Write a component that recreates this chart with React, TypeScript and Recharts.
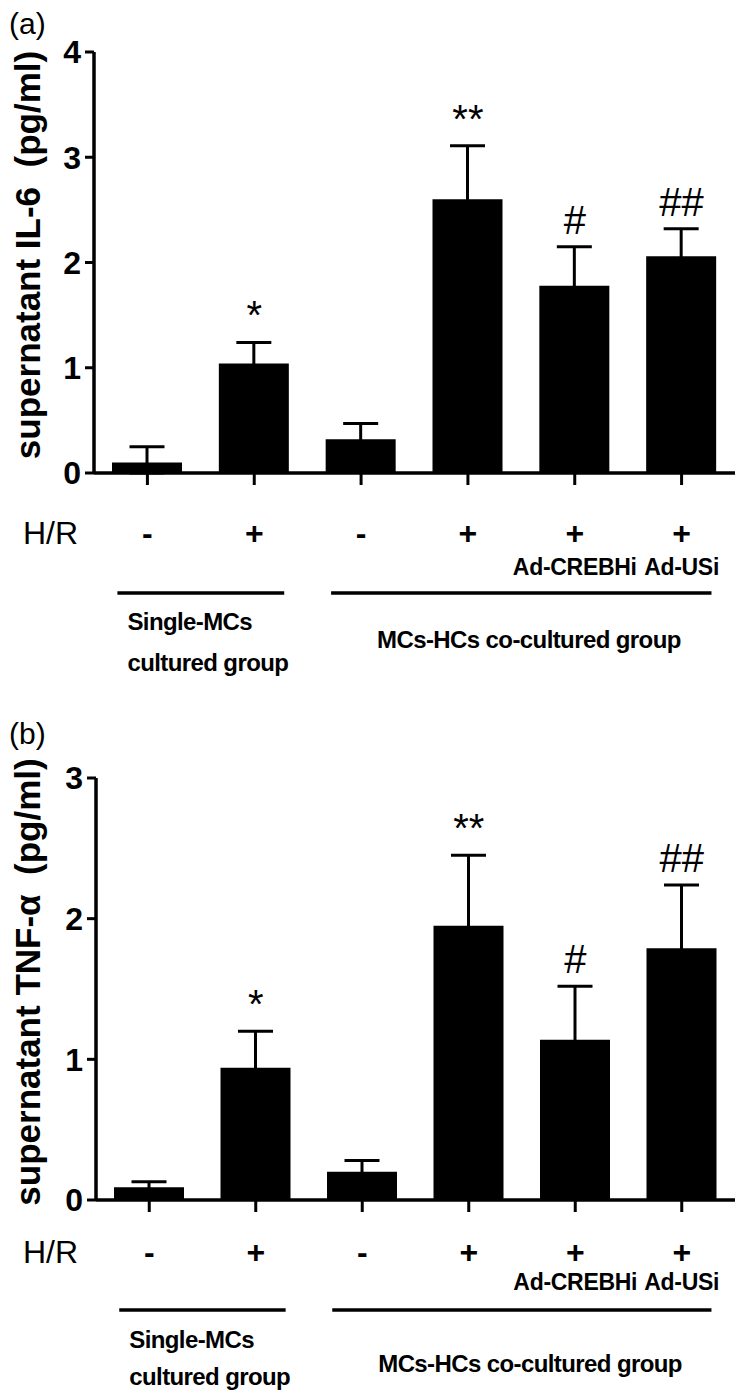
import React from 'react';
import { ComposedChart, Bar, Line, XAxis, YAxis, ErrorBar, LabelList, Customized } from 'recharts';

// ---------- data ----------
const groupKeys = ['g1', 'g2', 'g3', 'g4', 'g5', 'g6'];
const hrSigns = ['-', '+', '-', '+', '+', '+'];
const treatments = ['', '', '', '', 'Ad-CREBHi', 'Ad-USi'];
const groupOf = [0, 0, 1, 1, 1, 1];
const groupLabels = [['Single-MCs', 'cultured group'], ['MCs-HCs co-cultured group']];

const il6Mean = [0.1, 1.04, 0.32, 2.6, 1.78, 2.06];
const il6Err = [0.15, 0.2, 0.15, 0.51, 0.37, 0.26];
const il6Sig = ['', '*', '', '**', '#', '##'];
const il6Ticks = [0, 1, 2, 3, 4];

const tnfMean = [0.09, 0.94, 0.2, 1.95, 1.14, 1.79];
const tnfErr = [0.04, 0.26, 0.08, 0.5, 0.38, 0.45];
const tnfSig = ['', '*', '', '**', '#', '##'];
const tnfTicks = [0, 1, 2, 3];

const FONT = '"Liberation Sans", Arial, Helvetica, sans-serif';

function buildData(mean: number[], err: number[], sig: string[]) {
  return groupKeys.map((k, i) => ({
    key: k,
    mean: mean[i],
    err: [Math.min(err[i], mean[i]), err[i]],
    top: mean[i] + err[i],
    sig: sig[i],
  }));
}

type Cfg = {
  panel: string;
  yLabel: string;
  data: any[];
  ticks: number[];
  height: number;
  top: number;
  yAxisWidth: number;
  axisY: number;
  band: number;
  off: { sign: number; treat: number; line: number; l1: number; co: number; l2: number };
  panelY: number;
  yLabelX: number;
  yLabelY: number;
};

const SigLabel = (props: any) => {
  const { x, y, value } = props;
  if (!value) return null;
  return (
    <text x={x} y={y - 13} textAnchor="middle" fontSize={40} fontFamily={FONT} fill="#000">
      {value}
    </text>
  );
};

function makeTick(cfg: Cfg) {
  return (props: any) => {
    const { x, payload } = props;
    const i = groupKeys.indexOf(payload.value);
    const a = cfg.axisY;
    const o = cfg.off;
    const g = groupOf[i];
    const first = groupOf.indexOf(g);
    const last = groupOf.lastIndexOf(g);
    const els: any[] = [];
    els.push(
      <text key="s" x={x} y={a + o.sign + 11} textAnchor="middle" fontSize={32} fontWeight="bold" fontFamily={FONT} fill="#000">
        {hrSigns[i]}
      </text>
    );
    if (treatments[i]) {
      els.push(
        <text key="t" x={x} y={a + o.treat + 8} textAnchor="middle" fontSize={23} fontWeight="bold" fontFamily={FONT} fill="#000" letterSpacing={-0.3}>
          {treatments[i]}
        </text>
      );
    }
    if (i === 0) {
      els.push(
        <text key="hr" x={23} y={a + o.sign + 11} textAnchor="start" fontSize={32} fontFamily={FONT} fill="#000">
          H/R
        </text>
      );
    }
    if (i === first) {
      const x1 = x - 30;
      const x2 = x + (last - first) * cfg.band + 30;
      els.push(<line key="gl" x1={x1} x2={x2} y1={a + o.line} y2={a + o.line} stroke="#000" strokeWidth={3.5} />);
      const labs = groupLabels[g];
      if (labs.length === 2) {
        els.push(
          <text key="l1" x={x - 20} y={a + o.l1 + 8} fontSize={24} fontWeight="bold" fontFamily={FONT} fill="#000" letterSpacing={-0.6}>
            {labs[0]}
          </text>
        );
        els.push(
          <text key="l2" x={x - 20} y={a + o.l2 + 8} fontSize={24} fontWeight="bold" fontFamily={FONT} fill="#000" letterSpacing={-0.6}>
            {labs[1]}
          </text>
        );
      } else {
        els.push(
          <text key="l1" x={x + 16} y={a + o.co + 8} fontSize={24} fontWeight="bold" fontFamily={FONT} fill="#000" letterSpacing={-0.6}>
            {labs[0]}
          </text>
        );
      }
    }
    return (
      <g>
        <line x1={x} x2={x} y1={a} y2={a + 12} stroke="#000" strokeWidth={3} />
        {els}
      </g>
    );
  };
}

const Panel = ({ cfg }: { cfg: Cfg }) => {
  const Tick = makeTick(cfg);
  return (
    <ComposedChart
      width={741}
      height={cfg.height}
      data={cfg.data}
      margin={{ top: cfg.top, right: 6, left: 0, bottom: 0 }}
    >
      <Customized
        component={
          <g>
            <text x={9} y={cfg.panelY} fontSize={30} fontFamily={FONT} fill="#000">
              {cfg.panel}
            </text>
            <text
              x={cfg.yLabelX}
              y={cfg.yLabelY}
              transform={`rotate(-90 ${cfg.yLabelX} ${cfg.yLabelY})`}
              textAnchor="middle"
              dominantBaseline="central"
              fontSize={35}
              fontWeight="bold"
              fontFamily={FONT}
              fill="#000"
            >
              {cfg.yLabel}
            </text>
          </g>
        }
      />
      <XAxis
        dataKey="key"
        type="category"
        height={cfg.height - cfg.axisY}
        axisLine={{ stroke: '#000', strokeWidth: 3.5 }}
        tickLine={false}
        tick={<Tick />}
        interval={0}
      />
      <YAxis
        type="number"
        domain={[0, cfg.ticks[cfg.ticks.length - 1]]}
        ticks={cfg.ticks}
        width={cfg.yAxisWidth}
        axisLine={{ stroke: '#000', strokeWidth: 3.5 }}
        tickLine={{ stroke: '#000', strokeWidth: 3 }}
        tickSize={9}
        tickMargin={4}
        tick={{ fontSize: 32, fontWeight: 'bold', fill: '#000', fontFamily: FONT }}
        allowDataOverflow
      />
      <Bar dataKey="mean" fill="#000" barSize={70} isAnimationActive={false}>
        <ErrorBar dataKey="err" width={17.5} strokeWidth={3} stroke="#000" />
      </Bar>
      <Line dataKey="top" stroke="none" dot={false} activeDot={false} isAnimationActive={false} legendType="none">
        <LabelList dataKey="sig" content={<SigLabel />} />
      </Line>
    </ComposedChart>
  );
};

const cfgA: Cfg = {
  panel: '(a)',
  yLabel: 'supernatant IL-6\u00a0 (pg/ml)',
  data: buildData(il6Mean, il6Err, il6Sig),
  ticks: il6Ticks,
  height: 690,
  top: 52,
  yAxisWidth: 94,
  axisY: 473,
  band: 106.8,
  off: { sign: 60, treat: 94, line: 120, l1: 149, co: 167, l2: 190 },
  panelY: 34,
  yLabelX: 27,
  yLabelY: 255,
};

const cfgB: Cfg = {
  panel: '(b)',
  yLabel: 'supernatant TNF-\u03b1\u00a0 (pg/ml)',
  data: buildData(tnfMean, tnfErr, tnfSig),
  ticks: tnfTicks,
  height: 708,
  top: 88,
  yAxisWidth: 96,
  axisY: 510,
  band: 106.4,
  off: { sign: 52, treat: 82, line: 110, l1: 140, co: 164, l2: 177 },
  panelY: 54,
  yLabelX: 27,
  yLabelY: 292,
};

export default function App() {
  return (
    <div style={{ position: 'absolute', left: 0, top: 0, width: 741, height: 1398, background: '#fff' }}>
      <Panel cfg={cfgA} />
      <Panel cfg={cfgB} />
    </div>
  );
}
